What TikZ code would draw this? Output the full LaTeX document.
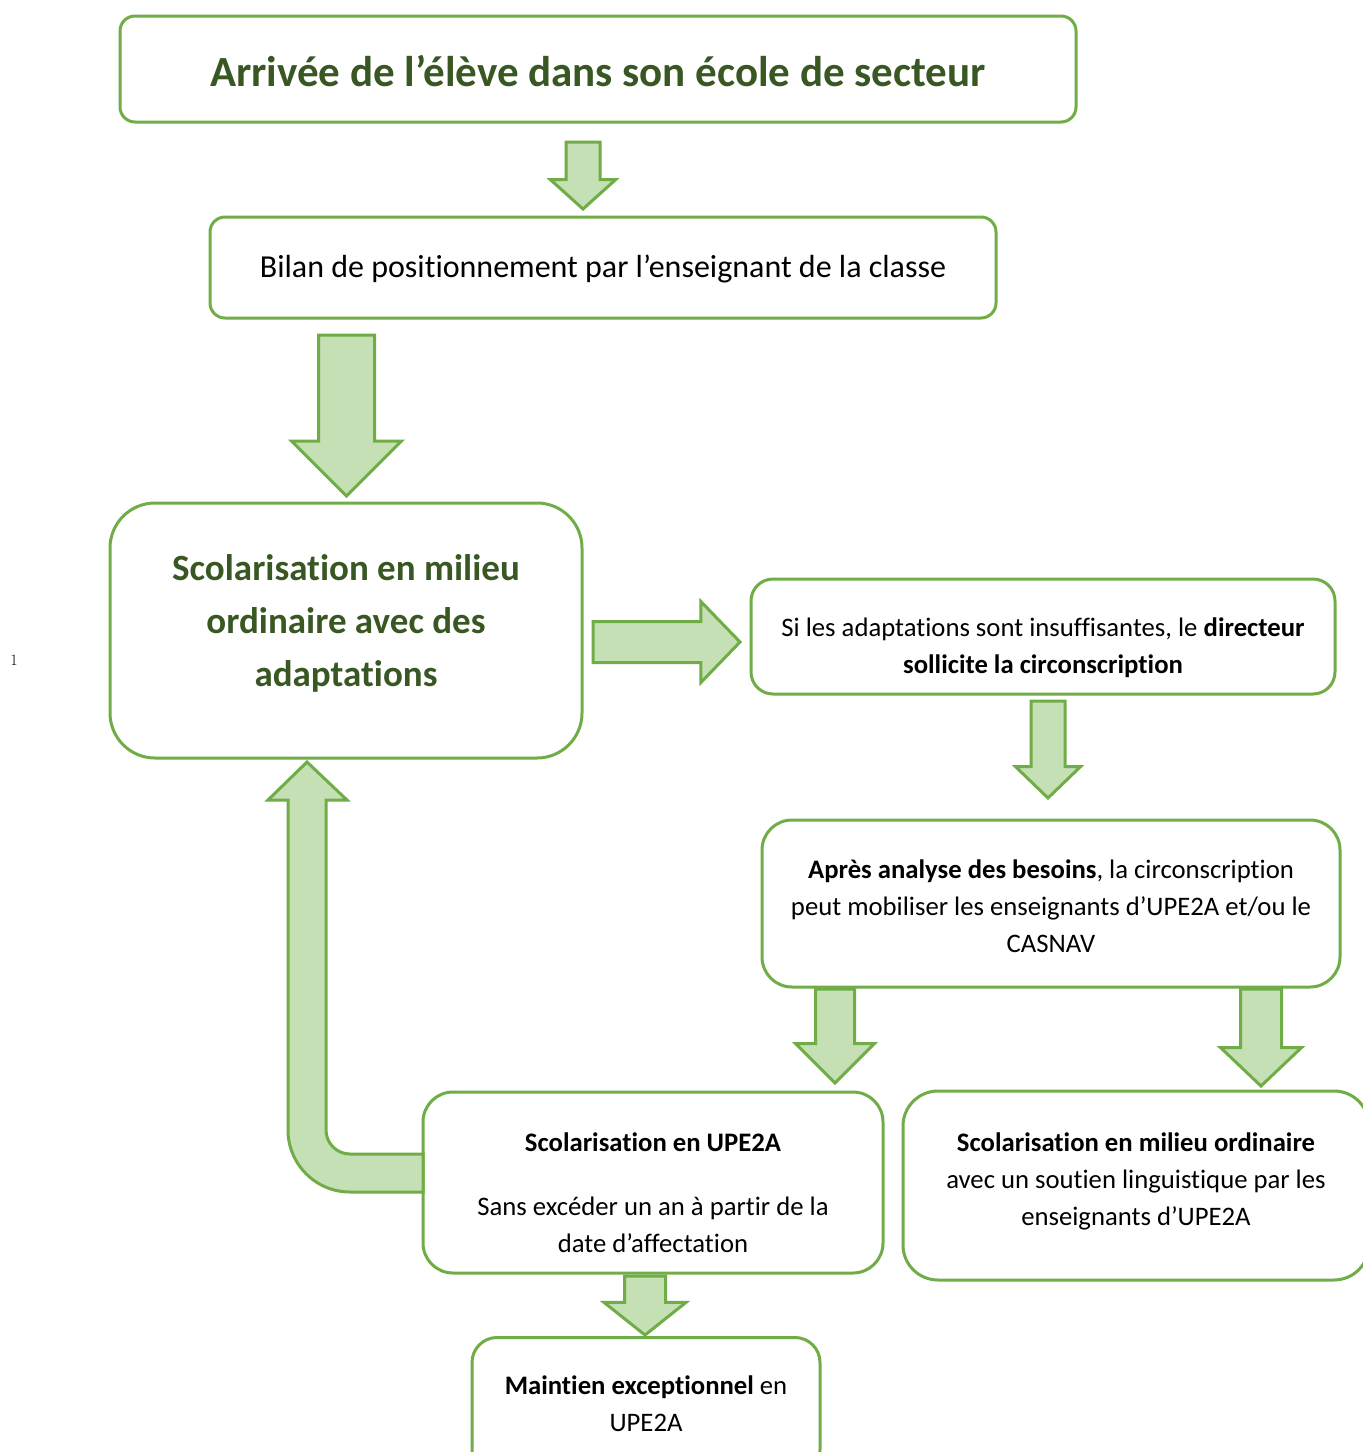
\documentclass[tikz,border=0pt]{standalone}
\usepackage{fontspec}
\setmainfont{Carlito}[Ligatures=NoCommon]
\newfontfamily\lmfont{Latin Modern Roman}
\usetikzlibrary{shapes.arrows}

\definecolor{frame}{HTML}{70AD47}
\definecolor{pale}{HTML}{C5E0B4}
\definecolor{deepgreen}{HTML}{385723}

\begin{document}
\begin{tikzpicture}[x=1pt, y=-1pt,
  inner sep=0pt, outer sep=0pt,%
  box/.style={draw=frame, line width=3pt, rounded corners=#1},
  box/.default=15pt,
  boxtext/.style={align=center, font=\fontsize{26.7}{37}\selectfont},
  headline/.style={align=center, text=deepgreen, font=\fontsize{#1}{53}\bfseries\selectfont},
  blockarrow/.style={single arrow, draw=frame, fill=pale, line width=3pt, inner sep=#1, anchor=tail},
  downarrow/.style={blockarrow=#1, shape border rotate=270}]

\fill[white] (0,0) rectangle (1363,1452);
\useasboundingbox (0,0) rectangle (1363,1452);

% cadres
\node[box, minimum width=956pt, minimum height=106pt] (arrivee) at (598,69) {};
\node[box, minimum width=786pt, minimum height=101pt] (bilan) at (603,267.5) {};
\node[box=45pt, minimum width=472pt, minimum height=255pt] (ordinaire) at (346,630.5) {};
\node[box=22pt, minimum width=584pt, minimum height=115pt] (directeur) at (1043,636.5) {};
\node[box=30pt, minimum width=578pt, minimum height=167pt] (besoins) at (1051,903.5) {};
\node[box=30pt, minimum width=460pt, minimum height=181pt] (upe) at (653,1182.5) {};
\node[box=35pt, minimum width=466pt, minimum height=189pt] (soutien) at (1136,1185.5) {};
\node[box=25pt, minimum width=348pt, minimum height=137pt] (maintien) at (646,1406) {};

% textes
\node[headline=43] (arrivee-t) at (598,71)
  {Arrivée de l’élève dans son école de secteur};
\node[boxtext, font=\fontsize{32}{37}\selectfont] (bilan-t) at (603,268.5)
  {Bilan de positionnement par l’enseignant de la classe};
\node[headline=37] (ordinaire-t) at (346,623.5)
  {Scolarisation en milieu\\ordinaire avec des\\adaptations};
\node[boxtext] (directeur-t) at (1043,647.5)
  {Si les adaptations sont insuffisantes, le \textbf{directeur}\\\textbf{sollicite la circonscription}};
\node[boxtext] (besoins-t) at (1051,906.5)
  {\textbf{Après analyse des besoins}, la circonscription\\peut mobiliser les enseignants d’UPE2A et/ou le\\CASNAV};
\node[boxtext] (upe-t) at (653,1192.5)
  {\textbf{Scolarisation en UPE2A}\\[27pt]Sans excéder un an à partir de la\\date d’affectation};
\node[boxtext] (soutien-t) at (1136,1181.5)
  {\textbf{Scolarisation en milieu ordinaire}\\avec un soutien linguistique par les\\enseignants d’UPE2A};
\node[boxtext] (maintien-t) at (646,1404)
  {\textbf{Maintien exceptionnel} en\\UPE2A};

\node[font=\lmfont\fontsize{16}{16}\selectfont] (renvoi) at (14,660) {1};

% fleches
\node[downarrow=15.5pt, minimum height=67pt, minimum width=62pt,
  single arrow head extend=15.5pt, single arrow tip angle=96] (f1) at (583,142) {};
\node[downarrow=26.5pt, minimum height=161pt, minimum width=107pt,
  single arrow head extend=27pt, single arrow tip angle=90] (f2) at (346.5,335) {};
\node[blockarrow=19pt, minimum height=147pt, minimum width=78pt,
  single arrow head extend=20pt, single arrow tip angle=92] (f3) at (593,642) {};
\node[downarrow=15.5pt, minimum height=97pt, minimum width=62pt,
  single arrow head extend=15.5pt, single arrow tip angle=92] (f4) at (1048,701) {};
\node[downarrow=18pt, minimum height=94pt, minimum width=76pt,
  single arrow head extend=20pt, single arrow tip angle=90] (f5) at (835,989) {};
\node[downarrow=19pt, minimum height=97pt, minimum width=78pt,
  single arrow head extend=20pt, single arrow tip angle=93] (f6) at (1261,989) {};
\node[downarrow=19pt, minimum height=59pt, minimum width=79pt,
  single arrow head extend=20.5pt, single arrow tip angle=103] (f7) at (645,1276) {};

% retour vers le milieu ordinaire
\draw[draw=frame, fill=pale, line width=3pt, line join=miter]
  (upe.west |- 0,1154) -- (350,1154) arc[start angle=90, end angle=180, radius=24]
  -- (326,800) -- (347,800) -- (307,762) -- (268,800) -- (288,800) -- (288,1130)
  arc[start angle=180, end angle=90, radius=62] -- (upe.west |- 0,1192) -- cycle;

\end{tikzpicture}
\end{document}
